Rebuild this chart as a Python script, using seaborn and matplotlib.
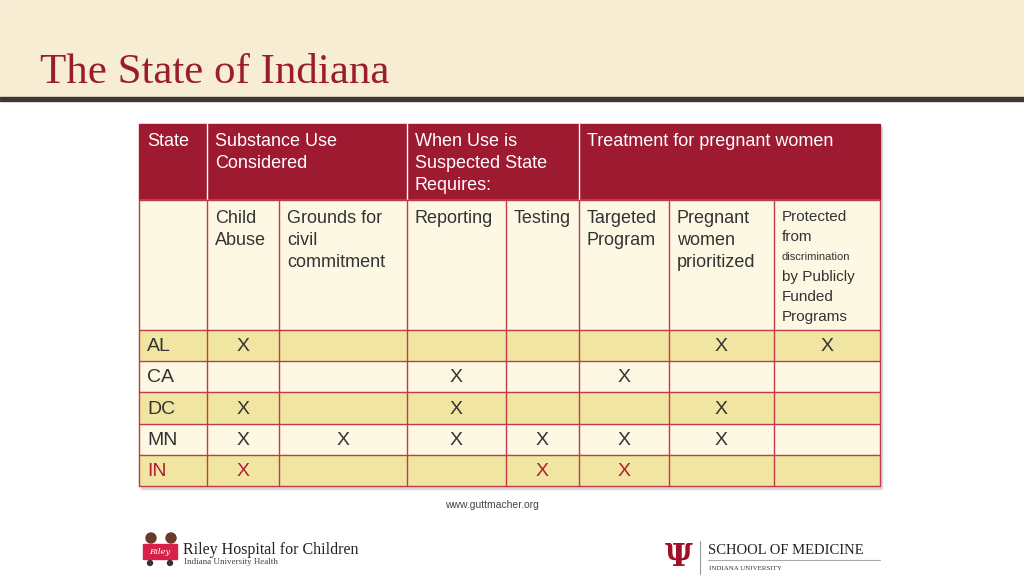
import numpy as np
import pandas as pd
import matplotlib.pyplot as plt
import seaborn as sns
from matplotlib.patches import Rectangle

sns.set_theme(style="white")
plt.rcParams['font.family'] = ['Liberation Sans', 'DejaVu Sans']

# table content
title = "The State of Indiana"
group_headers = ["State", "Substance Use\nConsidered", "When Use is\nSuspected State\nRequires:",
                 "Treatment for pregnant women"]
sub_headers = ["Child\nAbuse", "Grounds for\ncivil\ncommitment", "Reporting", "Testing",
               "Targeted\nProgram", "Pregnant\nwomen\nprioritized"]
protected_lines = ["Protected", "from", "discrimination", "by Publicly", "Funded", "Programs"]
states = ["AL", "CA", "DC", "MN", "IN"]
marks = pd.DataFrame(
    [[1, 0, 0, 0, 0, 1, 1],
     [0, 0, 1, 0, 1, 0, 0],
     [1, 0, 1, 0, 0, 1, 0],
     [1, 1, 1, 1, 1, 1, 0],
     [1, 0, 0, 1, 1, 0, 0]],
    index=states,
)
highlight = "IN"
source = "www.guttmacher.org"

# colours
crimson = "#9D1A31"
grid_red = "#C23A4C"
cream_top = "#F7EDD3"
cream_cell = "#FCF8E3"
yellow_cell = "#F1E5A2"
text_dark = "#333333"

# layout (pixels)
col_edges = [139, 207, 279, 407, 506, 579, 669, 774, 880]
group_edges = [139, 207, 407, 579, 880]
top, head_bot, sub_bot = 124, 200, 330
row_h = 31.2

fig = plt.figure(figsize=(10.24, 5.76), dpi=100)
ax = fig.add_axes([0, 0, 1, 1])
ax.set_xlim(0, 1024)
ax.set_ylim(576, 0)
ax.axis("off")

# slide header band
ax.add_patch(Rectangle((0, 0), 1024, 97, color=cream_top, zorder=0))
ax.add_patch(Rectangle((0, 97), 1024, 3.5, color="#3C3A38", zorder=1))
ax.text(40, 83, title, family=["Liberation Serif"], fontsize=31, color="#9B1C2E",
        va="baseline", ha="left")

# table shadow
n_rows = len(states)
bottom = sub_bot + row_h * n_rows
ax.add_patch(Rectangle((141, top + 3), col_edges[-1] - col_edges[0], bottom - top,
                       color="#d8d8d8", zorder=1))

# group header row
ax.add_patch(Rectangle((col_edges[0], top), col_edges[-1] - col_edges[0], head_bot - top,
                       color=crimson, zorder=2))
for x in group_edges[1:-1]:
    ax.plot([x, x], [top, head_bot], color="white", lw=1, zorder=3)
for x0, label in zip(group_edges[:-1], group_headers):
    ax.text(x0 + 8, top + 9, label, color="white", fontsize=13, va="top", ha="left",
            linespacing=1.38, zorder=4)

# sub header row
ax.add_patch(Rectangle((col_edges[0], head_bot), col_edges[-1] - col_edges[0], sub_bot - head_bot,
                       color=cream_cell, zorder=2))
for x0, label in zip(col_edges[1:-2], sub_headers):
    ax.text(x0 + 8, head_bot + 10, label, color=text_dark, fontsize=13, va="top", ha="left",
            linespacing=1.38, zorder=4)
for i, line in enumerate(protected_lines):
    ax.text(col_edges[-2] + 8, head_bot + 17 + i * 20, line, color=text_dark,
            fontsize=8 if line == "discrimination" else 11, va="center", ha="left", zorder=4)

# data rows
narrow = ["Liberation Sans Narrow", "Liberation Sans"]
for r, state in enumerate(states):
    y0 = sub_bot + r * row_h
    ax.add_patch(Rectangle((col_edges[0], y0), col_edges[-1] - col_edges[0], row_h,
                           color=yellow_cell if r % 2 == 0 else cream_cell, zorder=2))
    tc = "#B01C33" if state == highlight else text_dark
    ax.text(col_edges[0] + 8, y0 + row_h / 2 + 1, state, family=narrow, color=tc, fontsize=14,
            va="center", ha="left", zorder=4)
    for c, v in enumerate(marks.loc[state]):
        if v:
            xc = (col_edges[c + 1] + col_edges[c + 2]) / 2
            ax.text(xc, y0 + row_h / 2 + 1, "X", family=narrow, color=tc, fontsize=14,
                    va="center", ha="center", zorder=4)

# grid lines
for x in col_edges:
    ax.plot([x, x], [head_bot, bottom], color=grid_red, lw=1, zorder=3)
for k in range(n_rows + 1):
    y = sub_bot + k * row_h
    ax.plot([col_edges[0], col_edges[-1]], [y, y], color=grid_red, lw=1, zorder=3)
ax.plot([col_edges[0], col_edges[-1]], [head_bot, head_bot], color=grid_red, lw=1, zorder=3)

ax.text(492, 505, source, fontsize=7.5, color="#444444", ha="center", va="center")

# footer logos
ax.add_patch(Rectangle((143, 544), 34, 15, color="#D8204A", zorder=2))
ax.text(160, 551.5, "Riley", family=["DejaVu Serif"], fontstyle="italic", fontsize=6,
        color="white", ha="center", va="center", zorder=3)
for cx in (150, 170):
    ax.add_patch(plt.Circle((cx, 563), 2.5, color="#333333", zorder=3))
    ax.add_patch(plt.Circle((cx + 1, 538), 5, color="#6B3A2A", zorder=3))
ax.text(183, 550, "Riley Hospital for Children", family=["Liberation Serif"], fontsize=11.5,
        color="#222222", ha="left", va="center")
ax.text(184, 562.5, "Indiana University Health", family=["Liberation Serif"], fontsize=6.5,
        color="#444444", ha="left", va="center")

ax.text(679, 557, "\u03A8", family=["DejaVu Serif"], fontweight="bold", fontsize=22,
        color="#A0102A", ha="center", va="center")
ax.plot([700, 700], [541, 574], color="#999999", lw=0.8)
ax.text(708, 551, "SCHOOL OF MEDICINE", family=["Liberation Serif"], fontsize=10.5,
        color="#222222", ha="left", va="center")
ax.plot([708, 880], [560, 560], color="#aaaaaa", lw=0.8)
ax.text(709, 569, "INDIANA UNIVERSITY", family=["Liberation Serif"], fontsize=5,
        color="#333333", ha="left", va="center")

fig.savefig("out.png", dpi=100)
